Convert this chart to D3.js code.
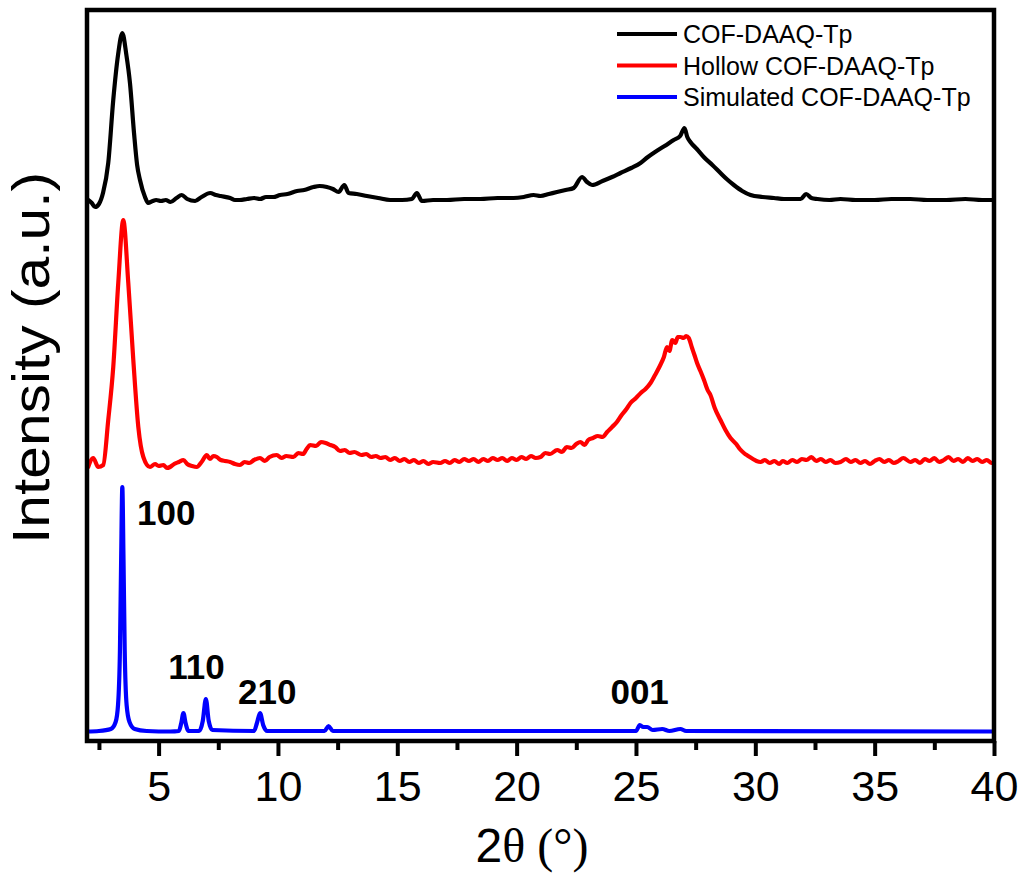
<!DOCTYPE html>
<html>
<head>
<meta charset="utf-8">
<script src="https://cdn.jsdelivr.net/npm/d3@7"></script>
<style>
  html, body { margin: 0; padding: 0; background: #fff; }
  svg { display: block; }
</style>
</head>
<body>
<svg id="chart" width="1024" height="873"></svg>
<script>
// ---------- DATA ----------
const seriesNames = ["COF-DAAQ-Tp", "Hollow COF-DAAQ-Tp", "Simulated COF-DAAQ-Tp"];
const seriesColors = ["#000000", "#ff0000", "#0000ff"];

// [2θ, intensity (a.u., stacked offsets)]
const cofData = [
  [2.05,541],[2.2,538],[2.34,534],[2.5,537],[2.67,548],[2.89,578],[3.10,641],[3.30,686],[3.48,708],
  [3.65,686],[3.80,658],[3.97,608],[4.10,576],[4.22,561],[4.43,544],[4.56,538],[4.75,540],[4.9,541],
  [5.1,540],[5.3,541],[5.5,539],[5.75,543],[5.97,546],[6.2,542],[6.53,540],[6.8,544],[7.16,548],
  [7.4,546],[7.6,545],[8.0,543],[8.2,541],[8.4,541],[8.7,542],[9.0,543],[9.25,542],[9.5,544],
  [9.8,544],[10.09,546],[10.4,547],[10.8,550],[11.1,551],[11.49,554],[11.75,555],[12.05,554],
  [12.3,552],[12.54,549],[12.78,556],[12.96,548],[13.3,547],[13.73,545],[14.2,543],[14.7,541],
  [15.2,541],[15.61,542],[15.82,548],[16.03,540],[16.5,541],[17.08,541],[17.8,542],[18.48,542],
  [19.2,543],[19.87,543],[20.3,544],[20.71,546],[21.0,545],[21.35,547],[21.69,549],[22.05,551],
  [22.39,553],[22.74,564],[22.95,559],[23.16,556],[23.6,560],[24.0,564],[24.35,568],[24.8,573],
  [25.19,578],[25.5,584],[25.8,589],[26.2,595],[26.58,601],[26.85,605],[27.03,613],[27.15,604],
  [27.28,599],[27.55,592],[27.84,584],[28.2,576],[28.54,568],[28.8,562],[29.1,556],[29.45,550],
  [29.8,546],[30.3,544],[30.78,543],[31.2,542],[31.6,542],[31.9,542],[32.13,547],[32.35,543],
  [32.6,542],[33.1,541],[33.57,542],[34.2,541],[35.0,541],[35.7,542],[36.5,542],[37.2,541],
  [38.0,541],[38.8,542],[39.5,541],[40.0,541]
];

const hollowData = [
  [2.05,274],[2.26,283],[2.47,274],[2.68,276],[2.89,321],[3.10,374],[3.31,458],[3.52,521],
  [3.73,458],[3.94,381],[4.15,314],[4.36,284],[4.64,274],[4.85,277],[5.0,275],[5.2,276],[5.35,273],
  [5.48,274],[5.65,277],[5.85,279],[6.04,281],[6.2,277],[6.4,275],[6.6,274],[6.8,279],[7.02,286],
  [7.15,282],[7.3,285],[7.44,284],[7.6,281],[7.8,280],[8.0,279],[8.2,277],[8.41,276],[8.6,279],
  [8.8,278],[9.0,281],[9.25,283],[9.45,280],[9.65,284],[9.95,286],[10.15,283],[10.35,285],
  [10.65,284],[10.85,288],[11.05,287],[11.2,292],[11.35,296],[11.6,295],[11.8,299],[12.0,298],
  [12.2,296],[12.4,294],[12.6,290],[12.8,291],[13.0,288],[13.2,289],[13.5,286],[13.7,287],
  [13.9,284],[14.1,285],[14.3,283],[14.5,284],[14.7,281],[14.9,283],[15.1,280],[15.3,282],
  [15.5,279],[15.7,281],[15.9,278],[16.1,280],[16.3,277],[16.5,279],[16.8,278],[17.0,280],
  [17.2,278],[17.4,281],[17.6,279],[17.8,282],[18.0,280],[18.2,282],[18.4,279],[18.6,282],
  [18.8,280],[19.0,283],[19.2,281],[19.4,283],[19.6,280],[19.8,283],[20.0,281],[20.2,284],
  [20.4,282],[20.6,285],[20.8,283],[21.0,284],[21.2,288],[21.4,287],[21.7,291],[21.9,289],
  [22.1,294],[22.3,293],[22.5,297],[22.67,299],[22.85,296],[23.0,301],[23.2,303],[23.4,305],
  [23.6,304],[23.79,309],[24.0,314],[24.2,319],[24.4,326],[24.6,332],[24.77,338],[25.0,343],
  [25.2,348],[25.4,352],[25.61,358],[25.8,366],[26.0,375],[26.17,384],[26.3,394],[26.4,390],
  [26.52,401],[26.65,398],[26.75,404],[26.86,404],[27.0,403],[27.1,405],[27.21,403],[27.35,393],
  [27.45,386],[27.56,378],[27.7,370],[27.85,361],[28.0,351],[28.12,346],[28.3,333],[28.54,321],
  [28.75,311],[28.96,303],[29.2,297],[29.35,292],[29.52,288],[29.7,285],[29.9,282],[30.05,280],
  [30.22,279],[30.4,281],[30.6,278],[30.8,280],[31.0,277],[31.15,280],[31.34,278],[31.55,281],
  [31.75,279],[31.95,282],[32.15,281],[32.35,284],[32.55,280],[32.75,282],[32.95,279],[33.15,281],
  [33.35,278],[33.57,279],[33.8,282],[34.0,279],[34.2,281],[34.4,278],[34.6,280],[34.8,277],
  [35.0,280],[35.2,282],[35.4,279],[35.6,281],[35.8,278],[36.0,280],[36.2,283],[36.5,279],
  [36.7,281],[36.9,278],[37.1,282],[37.3,280],[37.5,283],[37.7,279],[37.9,281],[38.1,284],
  [38.3,280],[38.5,282],[38.7,279],[38.9,283],[39.1,280],[39.3,282],[39.5,279],[39.7,281],
  [39.9,278],[40.0,278]
];

const simData = [
  [2.0,9.5],[2.5,10],[3.0,12],[3.2,19],[3.3,36],[3.38,91],[3.43,181],[3.48,254],[3.53,181],
  [3.58,91],[3.66,36],[3.78,19],[4.0,12],[4.5,10],[5.5,9.5],[5.85,10],[5.95,18],[6.04,28],
  [6.13,18],[6.25,10],[6.7,10],[6.85,20],[6.98,42],[7.1,20],[7.25,11],[9.0,10],[9.12,18],
  [9.25,28],[9.38,16],[9.55,10],[11.95,10],[12.12,15],[12.3,10],[25.0,10],[25.16,16],[25.3,14],
  [25.47,14],[25.7,11],[26.1,12],[26.4,10],[26.86,12],[27.1,10],[40.0,9.5]
];

const allSeries = [cofData, hollowData, simData];

const xTicksMajor = [5, 10, 15, 20, 25, 30, 35, 40];
const xTicksMinor = [2.5, 7.5, 12.5, 17.5, 22.5, 27.5, 32.5, 37.5];

// hkl annotations: [label, 2θ, intensity]
const hklLabels = [["100", 4.10, 216], ["110", 5.40, 62], ["210", 8.33, 37], ["001", 23.93, 37]];

// ---------- LAYOUT ----------
const mLeft = 87, mRight = 994, mTop = 10, mBottom = 741;
const svg = d3.select("#chart");

const x = d3.scaleLinear().domain([2, 40]).range([mLeft, mRight]);
const y = d3.scaleLinear().domain([0, 731]).range([mBottom, mTop]);

svg.append("defs").append("clipPath").attr("id", "clip")
  .append("rect").attr("x", mLeft).attr("y", mTop).attr("width", mRight - mLeft).attr("height", mBottom - mTop);

const line = d3.line().x(d => x(d[0])).y(d => y(d[1])).curve(d3.curveMonotoneX);

const g = svg.append("g").attr("clip-path", "url(#clip)");
allSeries.forEach((data, i) => {
  g.append("path")
    .datum(data)
    .attr("d", line)
    .attr("fill", "none")
    .attr("stroke", seriesColors[i])
    .attr("stroke-width", 4.2)
    .attr("stroke-linejoin", "round")
    .attr("stroke-linecap", "round");
});

// hkl labels
svg.append("g").selectAll("text").data(hklLabels).join("text")
  .attr("x", d => x(d[1]))
  .attr("y", d => y(d[2]))
  .attr("font-family", "Liberation Sans, Arial, sans-serif")
  .attr("font-weight", "bold")
  .attr("font-size", 35)
  .attr("fill", "#000")
  .text(d => d[0]);

// x axis
const xAxis = d3.axisBottom(x).tickValues(xTicksMajor).tickSize(15).tickPadding(14).tickFormat(d3.format("d"));
const ax = svg.append("g").attr("transform", `translate(0,${mBottom})`).call(xAxis);
ax.select(".domain").remove();
ax.selectAll(".tick line").attr("stroke", "#000").attr("stroke-width", 4);
ax.selectAll(".tick text")
  .attr("font-family", "Liberation Sans, Arial, sans-serif")
  .attr("font-size", 43)
  .attr("fill", "#000");

const axMinor = d3.axisBottom(x).tickValues(xTicksMinor).tickSize(9).tickFormat("");
const am = svg.append("g").attr("transform", `translate(0,${mBottom})`).call(axMinor);
am.select(".domain").remove();
am.selectAll(".tick line").attr("stroke", "#000").attr("stroke-width", 4);

// frame
svg.append("rect")
  .attr("x", mLeft).attr("y", mTop)
  .attr("width", mRight - mLeft).attr("height", mBottom - mTop)
  .attr("fill", "none").attr("stroke", "#000").attr("stroke-width", 4.5);

// axis titles
const xt = svg.append("text")
  .attr("x", 532).attr("y", 862)
  .attr("text-anchor", "middle")
  .attr("font-family", "Liberation Sans, Arial, sans-serif")
  .attr("font-size", 48)
  .attr("fill", "#000");
xt.append("tspan").text("2");
xt.append("tspan").attr("font-family", "Liberation Serif, Times New Roman, serif").text("θ (°)");

svg.append("text")
  .attr("transform", "translate(49,358) rotate(-90)")
  .attr("text-anchor", "middle")
  .attr("font-family", "Liberation Sans, Arial, sans-serif")
  .attr("font-size", 52)
  .attr("textLength", 372)
  .attr("lengthAdjust", "spacingAndGlyphs")
  .attr("fill", "#000")
  .text("Intensity (a.u.)");

// legend
const legend = svg.append("g");
seriesNames.forEach((name, i) => {
  const ly = 34 + i * 31.5;
  legend.append("line")
    .attr("x1", 617).attr("x2", 677).attr("y1", ly).attr("y2", ly)
    .attr("stroke", seriesColors[i]).attr("stroke-width", 4);
  legend.append("text")
    .attr("x", 683).attr("y", ly + 9)
    .attr("font-family", "Liberation Sans, Arial, sans-serif")
    .attr("font-size", 25)
    .attr("fill", "#000")
    .text(name);
});
</script>
</body>
</html>
